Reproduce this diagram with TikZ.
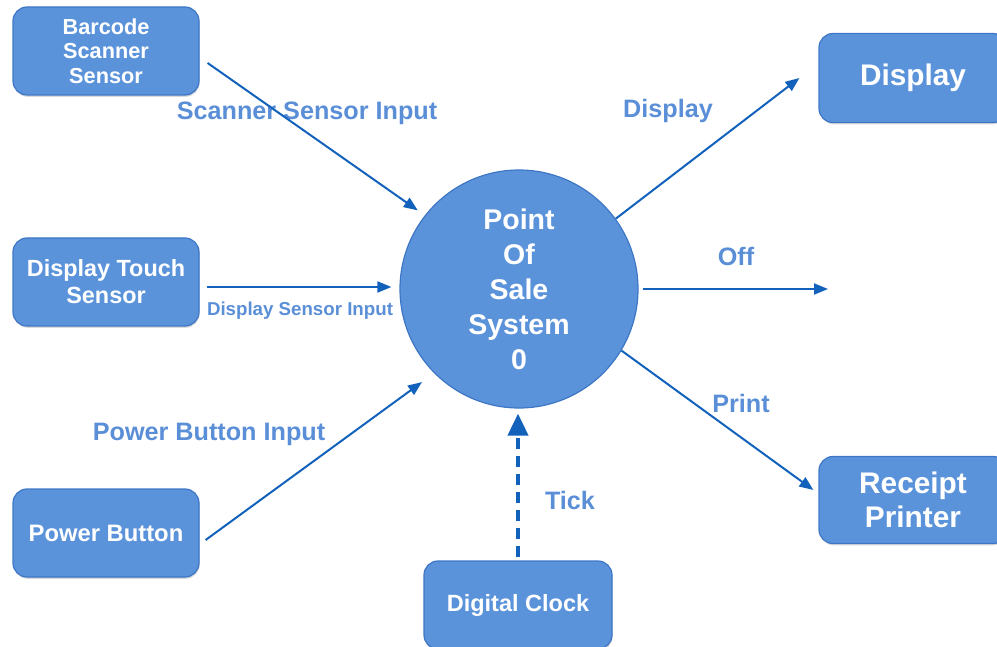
\documentclass[tikz,border=0pt]{standalone}
\usepackage{fontspec}
\setmainfont{Liberation Sans}
\usetikzlibrary{arrows.meta,shadows}
\definecolor{boxfill}{HTML}{5B93DB}
\definecolor{boxline}{HTML}{3D76C5}
\definecolor{arrowc}{HTML}{1262BC}
\definecolor{labc}{HTML}{5A8FD8}
\begin{document}
\begin{tikzpicture}[x=1pt,y=-1pt,
 ent/.style={draw=boxline, line width=1.2pt, fill=boxfill, rounded corners=14pt,
   minimum width=186pt, minimum height=88pt, inner sep=0pt, text=white, align=center,
   drop shadow={shadow xshift=0.6pt,shadow yshift=-1.8pt,opacity=0.3}},
 proc/.style={circle, draw=boxline, line width=1.2pt, fill=boxfill, minimum size=238pt,
   inner sep=0pt, text=white, align=center, font=\bfseries\fontsize{28.5}{35}\selectfont},
 flow/.style={draw=arrowc, line width=2pt, -{Triangle[length=14pt,width=11pt]}},
 tickflow/.style={draw=arrowc, line width=4pt, dash pattern=on 11pt off 7pt,
   -{Triangle[length=22pt,width=20pt]}},
 lab/.style={text=labc, font=\bfseries\fontsize{25.2}{28}\selectfont, inner sep=0pt}
]
\path[use as bounding box, clip] (0,0) rectangle (997,647);

% entities
\node[ent, font=\bfseries\fontsize{21.7}{24.5}\selectfont] (scan) at (106,51) {Barcode\\Scanner\\Sensor};
\node[ent, font=\bfseries\fontsize{23.4}{27}\selectfont] (touch) at (106,282) {Display Touch\\Sensor};
\node[ent, font=\bfseries\fontsize{23.8}{27}\selectfont] (power) at (106,533) {Power Button};
\node[ent, minimum width=188pt, font=\bfseries\fontsize{23.5}{27}\selectfont] (clock) at (518,605) {Digital Clock};
\node[ent, minimum width=188pt, minimum height=89pt, font=\bfseries\fontsize{29.8}{34}\selectfont] (disp) at (913,78) {Display};
\node[ent, minimum width=188pt, minimum height=87pt, font=\bfseries\fontsize{29.8}{34}\selectfont] (printer) at (913,500) {Receipt\\Printer};
\node[proc] (pos) at (519,289) {Point\\Of\\Sale\\System\\0};

% labels
\node[lab] (lscan) at (307,113) {Scanner Sensor Input};
\node[lab, font=\bfseries\fontsize{18.7}{22}\selectfont] (ltouch) at (300,311) {Display Sensor Input};
\node[lab] (lpower) at (209,434) {Power Button Input};
\node[lab] (ltick) at (570,500) {Tick};
\node[lab] (ldisp) at (668,111) {Display};
\node[lab] (loff) at (736,256) {Off};
\node[lab] (lprint) at (741,403) {Print};

% connectors
\coordinate (offend) at (828,289);
\draw[flow] ([shift={(8,12)}]scan.east) -- ([shift={(-7,-5)}]pos.142);
\draw[flow] ([shift={(7,5)}]touch.east) -- ([shift={(-8,-2)}]pos.west);
\draw[flow] ([shift={(6,7)}]power.east) -- ([shift={(-11,10)}]pos.224);
\draw[tickflow] ([shift={(0,-3)}]clock.north) -- ([shift={(-1,5)}]pos.south);
\draw[flow] (pos.36.5) -- ([shift={(-19,0)}]disp.west);
\draw[flow] ([shift={(4,0)}]pos.east) -- (offend);
\draw[flow] (pos.-31.7) -- ([shift={(-5,-10)}]printer.west);
\end{tikzpicture}
\end{document}
